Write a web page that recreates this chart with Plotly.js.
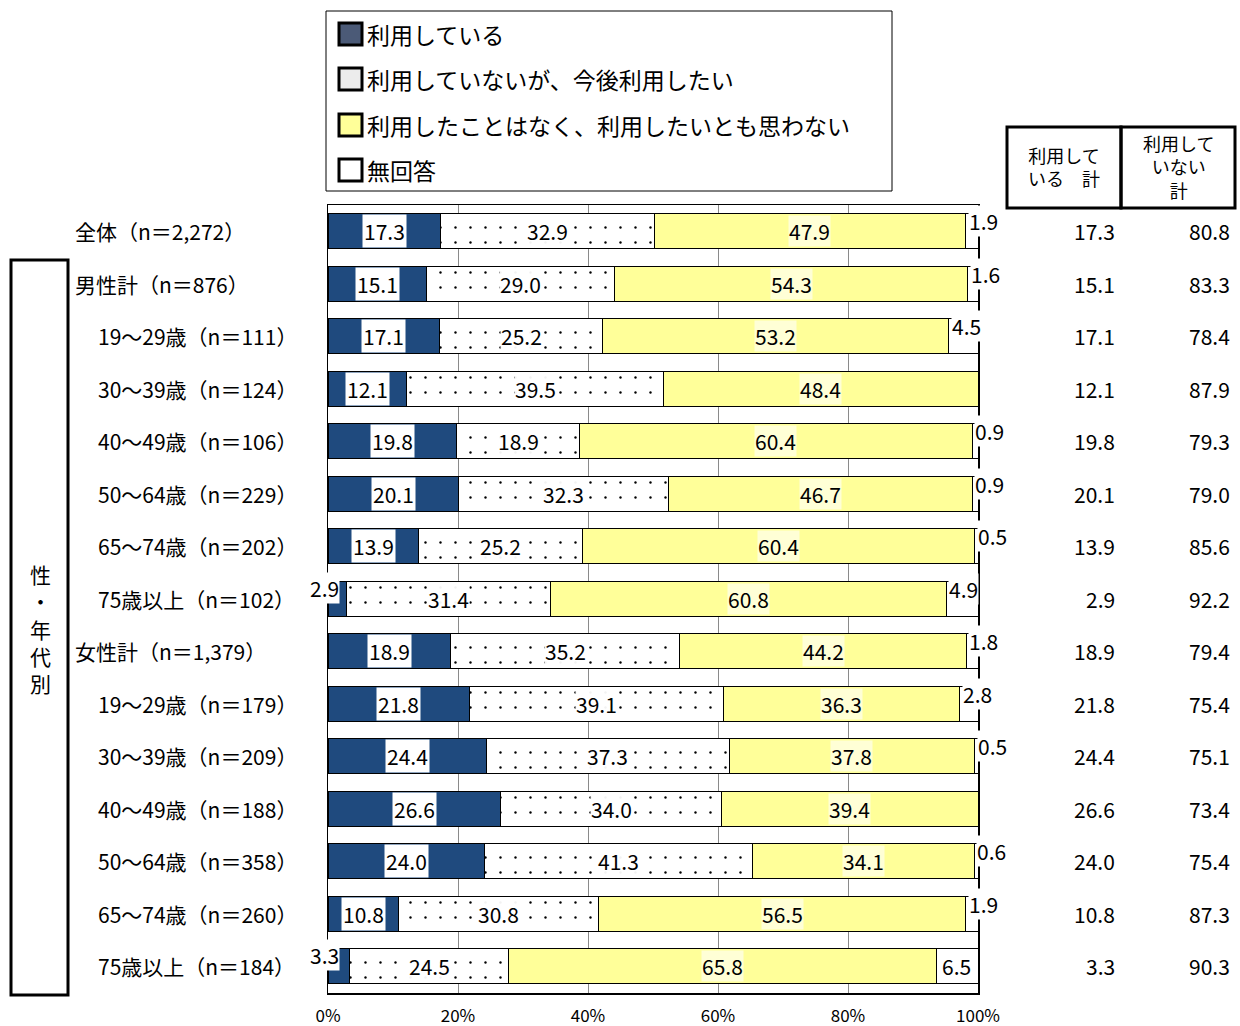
<!DOCTYPE html>
<html>
<head>
<meta charset="utf-8">
<script src="https://cdn.plot.ly/plotly-3.0.1.min.js"></script>
<style>html,body{margin:0;padding:0;background:#fff;}#chart{width:1240px;height:1026px;}</style>
</head>
<body>
<div id="chart"></div>
<script>
const categories = ['全体（n＝2,272）','男性計（n＝876）','19～29歳（n＝111）','30～39歳（n＝124）','40～49歳（n＝106）','50～64歳（n＝229）','65～74歳（n＝202）','75歳以上（n＝102）','女性計（n＝1,379）','19～29歳（n＝179）','30～39歳（n＝209）','40～49歳（n＝188）','50～64歳（n＝358）','65～74歳（n＝260）','75歳以上（n＝184）'];
const seriesNames = ['利用している','利用していないが、今後利用したい','利用したことはなく、利用したいとも思わない','無回答'];
const useVals = [17.3,15.1,17.1,12.1,19.8,20.1,13.9,2.9,18.9,21.8,24.4,26.6,24.0,10.8,3.3];
const wantVals = [32.9,29.0,25.2,39.5,18.9,32.3,25.2,31.4,35.2,39.1,37.3,34.0,41.3,30.8,24.5];
const notWantVals = [47.9,54.3,53.2,48.4,60.4,46.7,60.4,60.8,44.2,36.3,37.8,39.4,34.1,56.5,65.8];
const noAnsVals = [1.9,1.6,4.5,0,0.9,0.9,0.5,4.9,1.8,2.8,0.5,0,0.6,1.9,6.5];
const useTotal = [17.3,15.1,17.1,12.1,19.8,20.1,13.9,2.9,18.9,21.8,24.4,26.6,24.0,10.8,3.3];
const notUseTotal = [80.8,83.3,78.4,87.9,79.3,79.0,85.6,92.2,79.4,75.4,75.1,73.4,75.4,87.3,90.3];
const tableHeaders = [['利用して','いる　計'],['利用して','いない','計']];
const groupLabel = '性・年代別';
const xTicks = [0,20,40,60,80,100];

const FONT = '"Noto Sans CJK JP", "Noto Sans", sans-serif';
const NAVY = '#1F4A7E';
const YELLOW = '#FFFF99';

// plot area geometry (pixels)
const L = 328, R = 978, T = 205, B = 993, W = 1240, H = 1026;
const px = x => (x - L) / (R - L);
const py = y => (B - y) / (B - T);

const line = {color:'#000', width:1};
const traces = [
  {type:'bar', orientation:'h', name:seriesNames[0], y:categories, x:useVals,
   marker:{color:NAVY, line:line}},
  {type:'bar', orientation:'h', name:seriesNames[1], y:categories, x:wantVals,
   marker:{color:'#fff', line:line, pattern:{shape:'.', fgcolor:'#000', bgcolor:'#fff', size:15, solidity:0.02}}},
  {type:'bar', orientation:'h', name:seriesNames[2], y:categories, x:notWantVals,
   marker:{color:YELLOW, line:line}},
  {type:'bar', orientation:'h', name:seriesNames[3], y:categories, x:noAnsVals,
   marker:{color:'#fff', line:line}}
];

const ann = [];
const lblFont = {family:FONT, size:21, color:'#000'};
const base = {showarrow:false, xanchor:'center', yanchor:'middle'};
categories.forEach((c, i) => {
  const u = useVals[i], w = wantVals[i], n = notWantVals[i], a = noAnsVals[i];
  if (u >= 5) {
    ann.push({...base, x:u/2, y:c, xref:'x', yref:'y', text:u.toFixed(1), font:lblFont, bgcolor:'#fff', borderpad:1});
  } else {
    ann.push({...base, x:0, y:c, xref:'x', yref:'y', text:u.toFixed(1), font:lblFont, xshift:-4, yshift:11, bgcolor:'#fff', borderpad:0});
  }
  ann.push({...base, x:u + w/2, y:c, xref:'x', yref:'y', text:w.toFixed(1), font:lblFont, bgcolor:'rgba(255,255,255,0.95)', borderpad:0});
  ann.push({...base, x:u + w + n/2, y:c, xref:'x', yref:'y', text:n.toFixed(1), font:lblFont, bgcolor:'rgba(255,255,255,0.6)', borderpad:0});
  if (a >= 6) {
    ann.push({...base, x:100 - a/2, y:c, xref:'x', yref:'y', text:a.toFixed(1), font:lblFont});
  } else if (a > 0) {
    ann.push({...base, x:100 - a, y:c, xref:'x', yref:'y', text:a.toFixed(1), font:lblFont, xanchor:'left', xshift:2, yshift:10, bgcolor:'#fff', borderpad:0});
  }
  const isGroup = /^(全体|男性計|女性計)/.test(c);
  ann.push({...base, x:px(isGroup ? 73 : 96), y:c, xref:'paper', yref:'y', text:c, xanchor:'left', font:{family:FONT, size:21, color:'#000'}});
  ann.push({...base, x:px(1117), y:c, xref:'paper', yref:'y', text:useTotal[i].toFixed(1), xanchor:'right', font:lblFont});
  ann.push({...base, x:px(1232), y:c, xref:'paper', yref:'y', text:notUseTotal[i].toFixed(1), xanchor:'right', font:lblFont});
});

// table headers (one multi-line text per box)
const hdrFont = {family:FONT, size:18, color:'#000'};
[[1064, 167], [1178, 166]].forEach((h, k) => {
  ann.push({...base, x:px(h[0]), y:py(h[1]), xref:'paper', yref:'paper', text:tableHeaders[k].join('<br>'), font:hdrFont});
});

// group label (vertical)
ann.push({...base, x:px(40), y:py(628), xref:'paper', yref:'paper', text:groupLabel.split('').join('<br>'), font:{family:FONT, size:21, color:'#000'}});

// legend
const legFills = ['#4B5A77', '#ECECEC', YELLOW, '#fff'];
const legY = [34, 79, 125, 170];
const shapes = [];
shapes.push({type:'rect', xref:'paper', yref:'paper', x0:px(326), x1:px(892), y0:py(11), y1:py(191), line:{color:'#000', width:1}, fillcolor:'#fff'});
seriesNames.forEach((s, k) => {
  shapes.push({type:'rect', xref:'paper', yref:'paper', x0:px(339), x1:px(362), y0:py(legY[k]-11), y1:py(legY[k]+11), line:{color:'#000', width:3}, fillcolor:legFills[k]});
  ann.push({...base, x:px(365), y:py(legY[k]), xref:'paper', yref:'paper', text:s, xanchor:'left', font:{family:FONT, size:23, color:'#000'}});
});
shapes.push({type:'rect', xref:'paper', yref:'paper', x0:px(1007), x1:px(1121), y0:py(127), y1:py(208), line:{color:'#000', width:3}});
shapes.push({type:'rect', xref:'paper', yref:'paper', x0:px(1121), x1:px(1235), y0:py(127), y1:py(208), line:{color:'#000', width:3}});
shapes.push({type:'rect', xref:'paper', yref:'paper', x0:px(11), x1:px(68), y0:py(260), y1:py(995), line:{color:'#000', width:3}});

const layout = {
  width:W, height:H,
  margin:{l:L, r:W-R, t:T, b:H-B, pad:0},
  barmode:'stack', bargap:0.333,
  showlegend:false,
  paper_bgcolor:'#fff', plot_bgcolor:'#fff',
  font:{family:FONT, color:'#000'},
  xaxis:{range:[0,100], tickvals:xTicks, ticktext:xTicks.map(v => v + '%'), showgrid:true, gridcolor:'#8a8a8a', gridwidth:1,
         zeroline:false, showline:true, mirror:true, linecolor:'#000', linewidth:1.5, ticks:'',
         tickfont:{family:FONT, size:17, color:'#000'}, ticklabelstandoff:7, fixedrange:true},
  yaxis:{type:'category', autorange:'reversed', showticklabels:false, showgrid:false, zeroline:false,
         showline:true, mirror:true, linecolor:'#000', linewidth:1.5, ticks:'', fixedrange:true},
  annotations:ann,
  shapes:shapes
};

Plotly.newPlot('chart', traces, layout, {staticPlot:true, displayModeBar:false});
</script>
</body>
</html>
